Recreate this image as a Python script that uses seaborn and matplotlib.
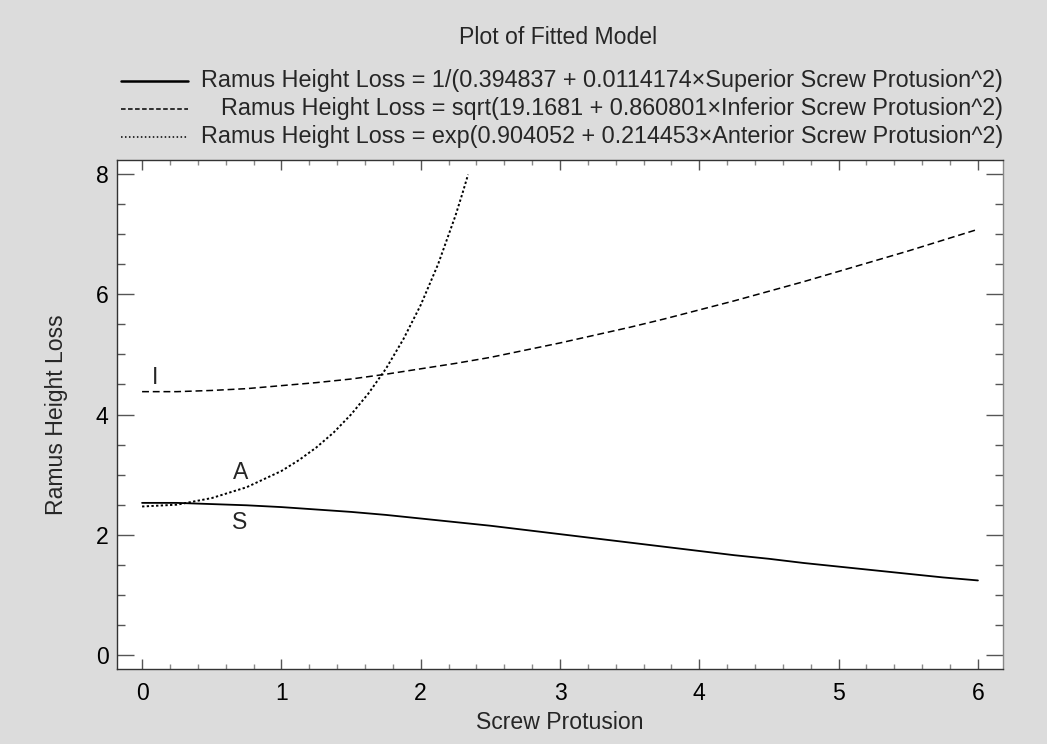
import matplotlib
matplotlib.use("Agg")
import matplotlib.pyplot as plt
from matplotlib.lines import Line2D
from matplotlib.ticker import MultipleLocator
import seaborn as sns

# ---- data ----
x_s = [0, 0.25, 0.5, 0.75, 1, 1.25, 1.5, 1.75, 2, 2.25, 2.5, 2.75, 3,
       3.25, 3.5, 3.75, 4, 4.25, 4.5, 4.75, 5, 5.25, 5.5, 5.75, 6]
y_s = [2.53, 2.53, 2.51, 2.49, 2.46, 2.42, 2.38, 2.33, 2.27, 2.21, 2.15, 2.08, 2.01,
       1.94, 1.87, 1.80, 1.73, 1.66, 1.60, 1.53, 1.47, 1.41, 1.35, 1.29, 1.24]
x_i = x_s
y_i = [4.38, 4.38, 4.40, 4.43, 4.48, 4.53, 4.59, 4.67, 4.76, 4.85, 4.95, 5.07, 5.19,
       5.32, 5.45, 5.59, 5.74, 5.89, 6.05, 6.21, 6.38, 6.55, 6.72, 6.90, 7.08]
x_a = [0, 0.25, 0.5, 0.75, 1, 1.125, 1.25, 1.375, 1.5, 1.625, 1.75, 1.875,
       2, 2.125, 2.25, 2.3, 2.34]
y_a = [2.47, 2.50, 2.61, 2.79, 3.06, 3.24, 3.45, 3.70, 4.00, 4.35, 4.76, 5.25,
       5.82, 6.50, 7.31, 7.68, 7.99]

labels = [
    "Ramus Height Loss = 1/(0.394837 + 0.0114174\u00d7Superior Screw Protusion^2)",
    "Ramus Height Loss = sqrt(19.1681 + 0.860801\u00d7Inferior Screw Protusion^2)",
    "Ramus Height Loss = exp(0.904052 + 0.214453\u00d7Anterior Screw Protusion^2)",
]
title = "Plot of Fitted Model"
xlabel = "Screw Protusion"
ylabel = "Ramus Height Loss"

# ---- style ----
sns.set_theme(style="white")
plt.rcParams["font.family"] = ["Liberation Sans", "DejaVu Sans"]

W, H = 1047, 744
fig = plt.figure(figsize=(W / 100, H / 100), dpi=100)
bg = "#dcdcdc"
fig.patch.set_facecolor(bg)

def px(x0, y0, x1, y1):
    return [x0 / W, 1 - y1 / H, (x1 - x0) / W, (y1 - y0) / H]

ax = fig.add_axes(px(117, 160, 1003, 669))
ax.set_facecolor("white")

sns.lineplot(x=x_s, y=y_s, ax=ax, color="black", linewidth=1.3, linestyle="-")
sns.lineplot(x=x_i, y=y_i, ax=ax, color="black", linewidth=1.1,
             linestyle=(0, (4.5, 2.5)))
sns.lineplot(x=x_a, y=y_a, ax=ax, color="black", linewidth=1.4,
             linestyle=(0, (1.2, 1.2)))

ax.set_xlim(-0.18, 6.18)
ax.set_ylim(-0.233, 8.233)
ax.xaxis.set_major_locator(MultipleLocator(1))
ax.xaxis.set_minor_locator(MultipleLocator(0.2))
ax.yaxis.set_major_locator(MultipleLocator(2))
ax.yaxis.set_minor_locator(MultipleLocator(0.5))

fs = 16.6
ax.tick_params(axis="both", which="both", direction="in", top=True, right=True,
               left=True, bottom=True, labelsize=fs, labelcolor="black")
ax.tick_params(axis="x", which="major", length=7.2, width=1.0, color="#555555", pad=9)
ax.tick_params(axis="x", which="minor", length=3.3, width=1.0, color="#888888")
ax.tick_params(axis="y", which="major", length=12.2, width=1.0, color="#555555", pad=6)
ax.tick_params(axis="y", which="minor", length=5.8, width=1.0, color="#555555")
for side in ["left", "bottom", "top"]:
    ax.spines[side].set_color("#333333")
    ax.spines[side].set_linewidth(1.0)
ax.spines["right"].set_color("#888888")
ax.spines["right"].set_linewidth(1.0)

ax.set_xlabel(xlabel, fontsize=fs, labelpad=5)
ax.set_ylabel(ylabel, fontsize=fs, labelpad=20)

# curve tags
ax.text(0.09, 4.62, "I", fontsize=fs, ha="center", va="center")
ax.text(0.71, 3.03, "A", fontsize=fs, ha="center", va="center")
ax.text(0.70, 2.21, "S", fontsize=fs, ha="center", va="center")

# title
fig.text(558 / W, 1 - 37 / H, title, fontsize=fs, ha="center", va="center")

# legend: handles on the left, text right-aligned
leg_fs = 16.85
rows_y = [81, 109, 137]
leg_styles = ["-", (0, (3.0, 1.6)), (0, (1.0, 1.6))]
leg_lw = [1.8, 1.1, 1.1]
for lab, ry, st, l in zip(labels, rows_y, leg_styles, leg_lw):
    fig.text(1003 / W, 1 - ry / H, lab, fontsize=leg_fs, ha="right", va="center")
    fig.add_artist(Line2D([121 / W, 188 / W], [1 - ry / H, 1 - ry / H],
                          transform=fig.transFigure, color="black",
                          linewidth=l, linestyle=st))

fig.savefig("out.png", dpi=100, facecolor=bg)
